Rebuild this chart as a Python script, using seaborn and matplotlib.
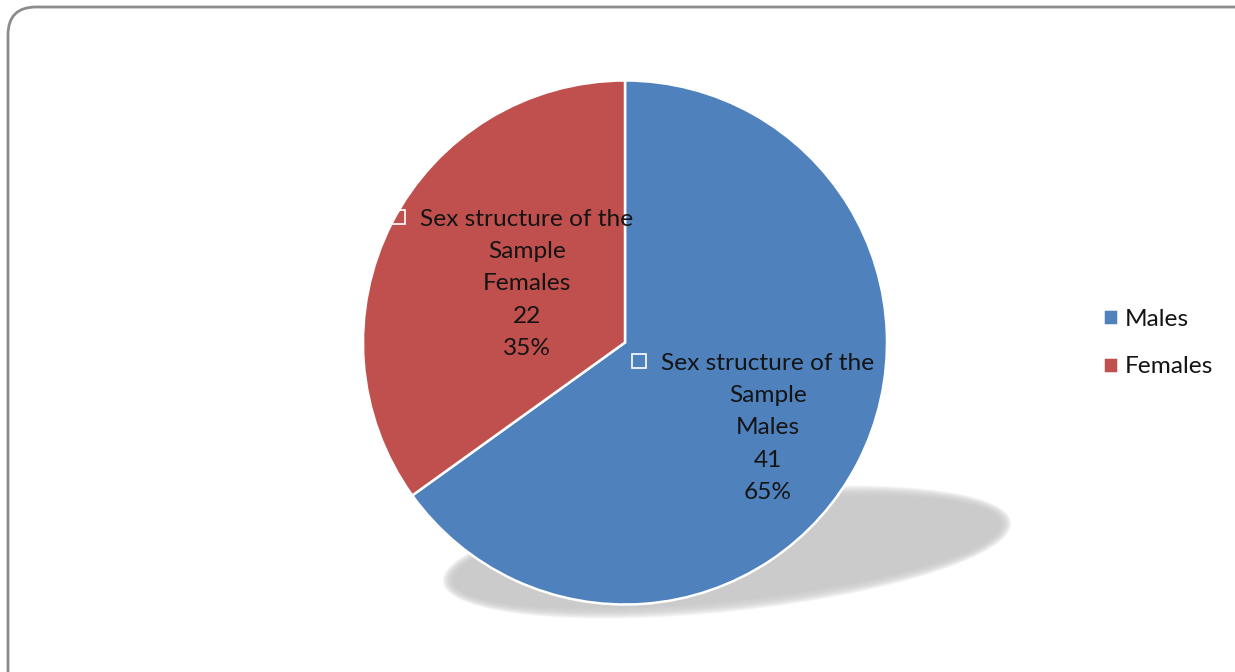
import numpy as np
import matplotlib
matplotlib.use("Agg")
import matplotlib.pyplot as plt
import seaborn as sns
from matplotlib.patches import FancyBboxPatch, Ellipse, Rectangle

categories = ["Males", "Females"]
counts = [41, 22]
percents = ["65%", "35%"]
series_name = "Sex structure of the\nSample"
colors = ["#4F81BD", "#C0504D"]

sns.set_theme(style="white")
plt.rcParams['font.family'] = ['Lato', 'DejaVu Sans']

W, H = 1235, 672
FS = 17.6
TXT = "#141414"
fig = plt.figure(figsize=(W / 100, H / 100), dpi=100)
ax = fig.add_axes([0, 0, 1, 1])
ax.set_xlim(0, W)
ax.set_ylim(0, H)
ax.axis("off")

# rounded frame
frame = FancyBboxPatch((8, -40), W + 40, H - 7 + 40,
                       boxstyle="round,pad=0,rounding_size=28",
                       fc="white", ec="#8c8c8c", lw=2.0, zorder=0)
ax.add_patch(frame)

cx, cy, R = 625, H - 342.5, 262

# soft perspective shadow
sx, sy, sw, sh, sang = 727, H - 552, 572, 120, 6.0
n = 45
for i in range(n):
    b = 40 * i / n
    ax.add_patch(Ellipse((sx, sy), sw - b, sh - b, angle=sang, fc="#cbcbcb",
                         ec="none", alpha=0.075, zorder=1))

wedges, _ = ax.pie(counts, colors=colors, startangle=90, counterclock=False,
                   center=(cx, cy), radius=R, frame=True,
                   wedgeprops=dict(edgecolor="white", linewidth=1.8, zorder=2))
ax.set_xlim(0, W)
ax.set_ylim(0, H)
ax.axis("off")
ax.set_aspect("auto")

# data labels
dists = [0.635, 0.437]
ang_off = -3.7
line_h = 33
fig.canvas.draw()
rend = fig.canvas.get_renderer()
for w, cat, cnt, pct, d in zip(wedges, categories, counts, percents, dists):
    mid = np.deg2rad((w.theta1 + w.theta2) / 2 + ang_off)
    lx = cx + d * R * np.cos(mid)
    ly = cy + d * R * np.sin(mid)
    txt = f"{series_name}\n{cat}\n{cnt}\n{pct}"
    ax.text(lx, ly, txt, ha="center", va="center", fontsize=FS,
            color=TXT, linespacing=1.67, zorder=5)
    tmp = ax.text(0, 0, series_name.split("\n")[0], fontsize=FS)
    first_w = tmp.get_window_extent(rend).width
    tmp.remove()
    sq = 14
    sqx = lx - first_w / 2 - 22.5
    sqy = ly + 2 * line_h + 1
    ax.add_patch(Rectangle((sqx - sq / 2, sqy - sq / 2), sq, sq,
                           fc="none", ec="white", lw=1.2, zorder=6))

leg = ax.legend(wedges, categories, loc="center left",
                bbox_to_anchor=(1081 / W, 1 - 343 / H), frameon=False,
                fontsize=FS, handlelength=0.6, handleheight=0.6,
                handletextpad=0.28, labelspacing=1.1)
for txt in leg.get_texts():
    txt.set_color(TXT)

fig.savefig("out.png", dpi=100)
